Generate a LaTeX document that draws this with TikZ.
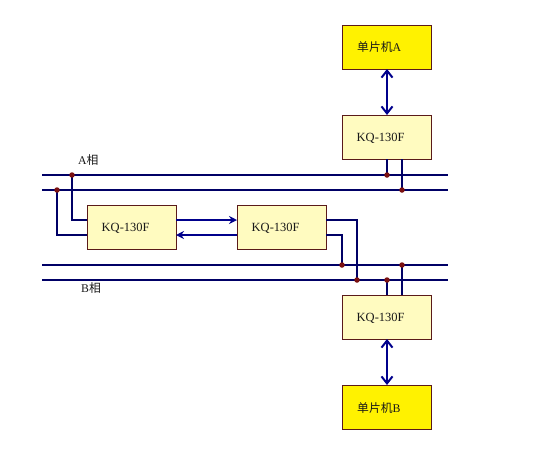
\documentclass[tikz,border=0pt]{standalone}
\usepackage{fontspec}
\setmainfont{Liberation Serif}
\newfontfamily\cjk{Noto Sans CJK SC}
\usetikzlibrary{arrows.meta}
\definecolor{wire}{HTML}{000066}
\definecolor{arrowblue}{HTML}{00008C}
\definecolor{edge}{HTML}{5A1A1A}
\definecolor{paleyellow}{HTML}{FFFBC0}
\definecolor{strongyellow}{HTML}{FFF200}
\definecolor{dotred}{HTML}{7A1010}
\tikzset{
  x=1pt,y=-1pt,
  box/.style={draw=edge,line width=1pt,minimum width=89pt,minimum height=44pt,inner sep=0pt,anchor=north west,outer sep=0pt},
  kq/.style={box,fill=paleyellow},
  mcu/.style={box,fill=strongyellow},
  wirel/.style={draw=wire,line width=2.2pt},
  link/.style={draw=arrowblue,line width=2.2pt},
  duplex/.style={link,{Straight Barb[length=7pt,width=11pt,line width=2pt]}-{Straight Barb[length=7pt,width=11pt,line width=2pt]}},
  oneway/.style={link,-{Stealth[length=8pt,width=8pt]}},
  junction/.style={circle,fill=dotred,inner sep=0pt,minimum size=5.5pt},
  lab/.style={font=\fontsize{12.5pt}{14pt}\selectfont,anchor=west,inner sep=0pt,text=black!90},
  cjklab/.style={font=\fontsize{11.8pt}{14pt}\selectfont,text=black!90,anchor=west,inner sep=0pt}
}
\begin{document}
\begin{tikzpicture}
\useasboundingbox (0,0) rectangle (556,448);
% bus ends
\coordinate (a1w) at (42,175); \coordinate (a1e) at (448,175);
\coordinate (a2w) at (42,190); \coordinate (a2e) at (448,190);
\coordinate (b1w) at (42,265); \coordinate (b1e) at (448,265);
\coordinate (b2w) at (42,280); \coordinate (b2e) at (448,280);
% junction points
\coordinate (j1) at (72,175);
\coordinate (j2) at (57,190);
\coordinate (j3) at (387,175);
\coordinate (j4) at (402,190);
\coordinate (j5) at (342,265);
\coordinate (j6) at (357,280);
\coordinate (j7) at (387,280);
\coordinate (j8) at (402,265);
% boxes
\node[mcu] (mcuA) at (342,25) {};
\node[kq] (kqT) at (342,115) {};
\node[kq] (kqL) at (87,205) {};
\node[kq] (kqM) at (237,205) {};
\node[kq] (kqB) at (342,295) {};
\node[mcu] (mcuB) at (342,385) {};
% buses
\draw[wirel] (a1w) -- (a1e);
\draw[wirel] (a2w) -- (a2e);
\draw[wirel] (b1w) -- (b1e);
\draw[wirel] (b2w) -- (b2e);
% left box to bus A
\draw[wirel] (j1) |- ([yshift=7pt]kqL.west);
\draw[wirel] (j2) |- ([yshift=-8pt]kqL.west);
% middle box to bus B
\draw[wirel] ([yshift=7pt]kqM.east) -| (j6);
\draw[wirel] ([yshift=-8pt]kqM.east) -| (j5);
% top box
\draw[wirel] (j3) -- (j3 |- kqT.south);
\draw[wirel] (j4) -- (j4 |- kqT.south);
% bottom box
\draw[wirel] (j7) -- (j7 |- kqB.north);
\draw[wirel] (j8) -- (j8 |- kqB.north);
% between left and middle
\draw[oneway] ([yshift=7pt]kqL.east) -- ([yshift=7pt]kqM.west);
\draw[oneway] ([yshift=-8pt]kqM.west) -- ([yshift=-8pt]kqL.east);
% duplex
\draw[duplex] ([xshift=0.5pt]mcuA.south) -- ([xshift=0.5pt]kqT.north);
\draw[duplex] ([xshift=0.5pt]kqB.south) -- ([xshift=0.5pt]mcuB.north);
% junction dots
\foreach \j in {j1,j2,j3,j4,j5,j6,j7,j8} \node[junction] at (\j) {};
% text
\node[lab] (t1) at (101.5,228) {KQ-130F};
\node[lab] (t2) at (251.5,228) {KQ-130F};
\node[lab] (t3) at (356.5,138) {KQ-130F};
\node[lab] (t4) at (356.5,318) {KQ-130F};
\node[cjklab] (t5) at (357,47.5) {{\cjk 单片机}A};
\node[cjklab] (t6) at (357,408) {{\cjk 单片机}B};
\node[cjklab] (t7) at (78,160) {A{\cjk 相}};
\node[cjklab] (t8) at (81,288) {B{\cjk 相}};
\end{tikzpicture}
\end{document}
